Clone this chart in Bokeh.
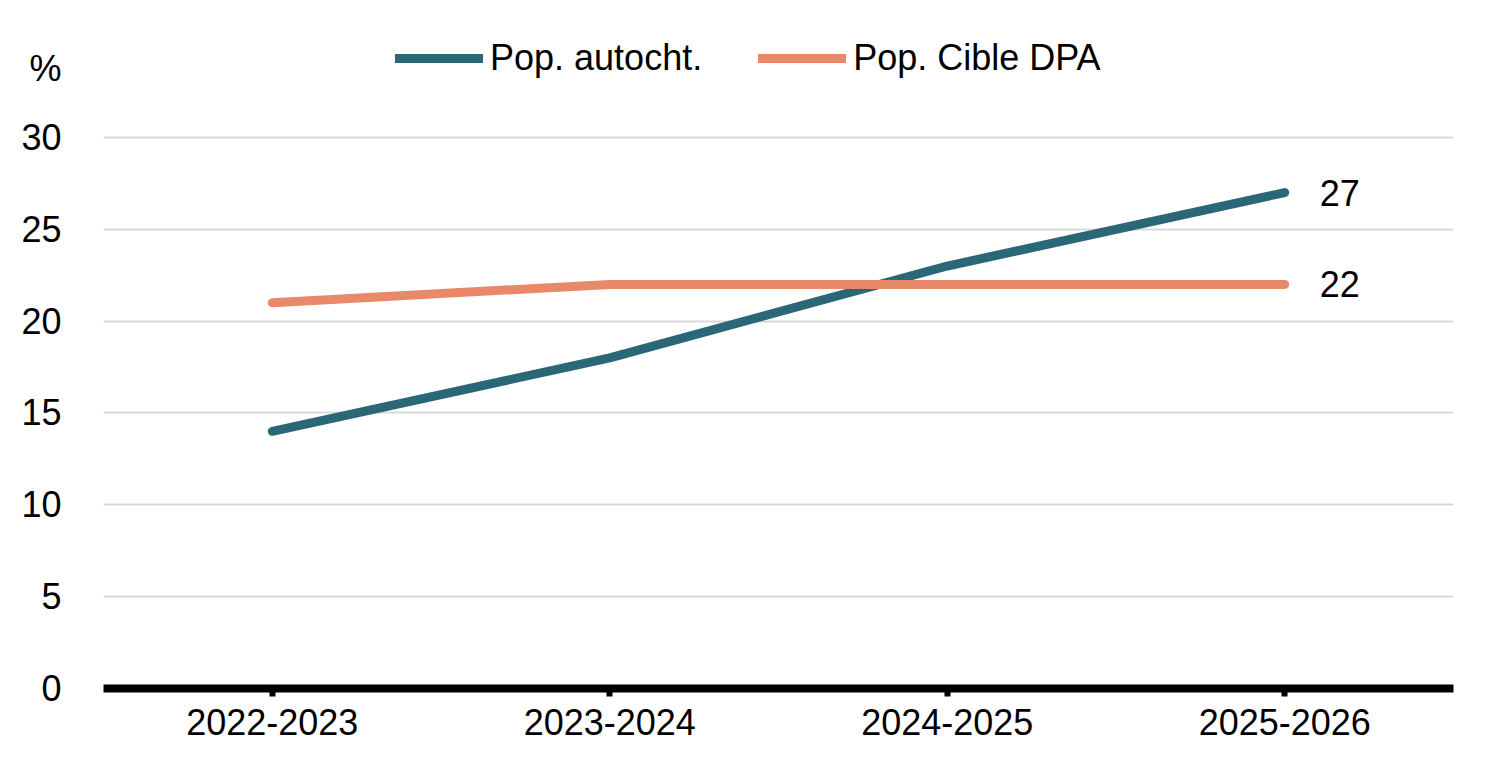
from bokeh.plotting import figure
from bokeh.models import (FactorRange, Range1d, Legend, LegendItem, LabelSet,
                          ColumnDataSource, FixedTicker)
from bokeh.core.properties import value
from bokeh.embed import file_html
from bokeh.resources import INLINE

years = ["2022-2023", "2023-2024", "2024-2025", "2025-2026"]
autocht = [14, 18, 23, 27]
cible_dpa = [21, 22, 22, 22]
series_names = ["Pop. autocht.", "Pop. Cible DPA"]
y_ticks = [0, 5, 10, 15, 20, 25, 30]
unit_label = "%"
unit_pos = 33.75

TEAL = "#2A6777"
ORANGE = "#E8896A"
FONT = "Liberation Sans"
FS = "36px"

p = figure(width=1484, height=746, x_range=FactorRange(*years, range_padding=0),
           y_range=Range1d(0, 37.02), output_backend="svg", toolbar_location=None,
           min_border_left=103, min_border_right=31, min_border_top=8, min_border_bottom=58)
p.outline_line_color = None
p.background_fill_color = "white"

src = ColumnDataSource(dict(x=years, a=autocht, c=cible_dpa))
r1 = p.line("x", "a", source=src, line_color=TEAL, line_width=9, line_cap="round", line_join="round")
r2 = p.line("x", "c", source=src, line_color=ORANGE, line_width=9, line_cap="round", line_join="round")

# grid
p.xgrid.grid_line_color = None
p.ygrid.ticker = FixedTicker(ticks=y_ticks)
p.ygrid.grid_line_color = "#D9D9D9"
p.ygrid.grid_line_width = 2

# y axis (unit label "%" shown as an extra tick label at the top)
p.yaxis.ticker = FixedTicker(ticks=y_ticks + [unit_pos])
p.yaxis.major_label_overrides = {unit_pos: unit_label}
p.yaxis.axis_line_color = None
p.yaxis.major_tick_line_color = None
p.yaxis.minor_tick_line_color = None
p.yaxis.major_label_standoff = 36
p.yaxis.major_label_text_font = FONT
p.yaxis.major_label_text_font_size = FS
p.yaxis.major_label_text_color = "black"

# x axis
p.xaxis.axis_line_color = "black"
p.xaxis.axis_line_width = 8
p.xaxis.major_tick_line_color = "black"
p.xaxis.major_tick_line_width = 6
p.xaxis.major_tick_in = 0
p.xaxis.major_tick_out = 8
p.xaxis.major_label_standoff = 12
p.xaxis.major_label_text_font = FONT
p.xaxis.major_label_text_font_size = FS
p.xaxis.major_label_text_color = "black"

# end labels
last = dict(x=[years[-1], years[-1]], y=[autocht[-1], cible_dpa[-1]],
            t=[str(autocht[-1]), str(cible_dpa[-1])])
p.add_layout(LabelSet(x="x", y="y", text="t", source=ColumnDataSource(last), x_offset=35,
                      text_baseline="middle", text_align="left", text_font=value(FONT),
                      text_font_size=value(FS), text_color="black"))

legend = Legend(items=[LegendItem(label=series_names[0], renderers=[r1]),
                       LegendItem(label=series_names[1], renderers=[r2])],
                orientation="horizontal", location=(292, 609),
                glyph_width=88, glyph_height=42, label_standoff=7, spacing=56,
                padding=0, margin=0, border_line_color=None, background_fill_alpha=0,
                label_text_font=FONT, label_text_font_size=FS, label_text_color="black")
p.add_layout(legend)

open("out.html", "w").write(file_html(p, INLINE))
